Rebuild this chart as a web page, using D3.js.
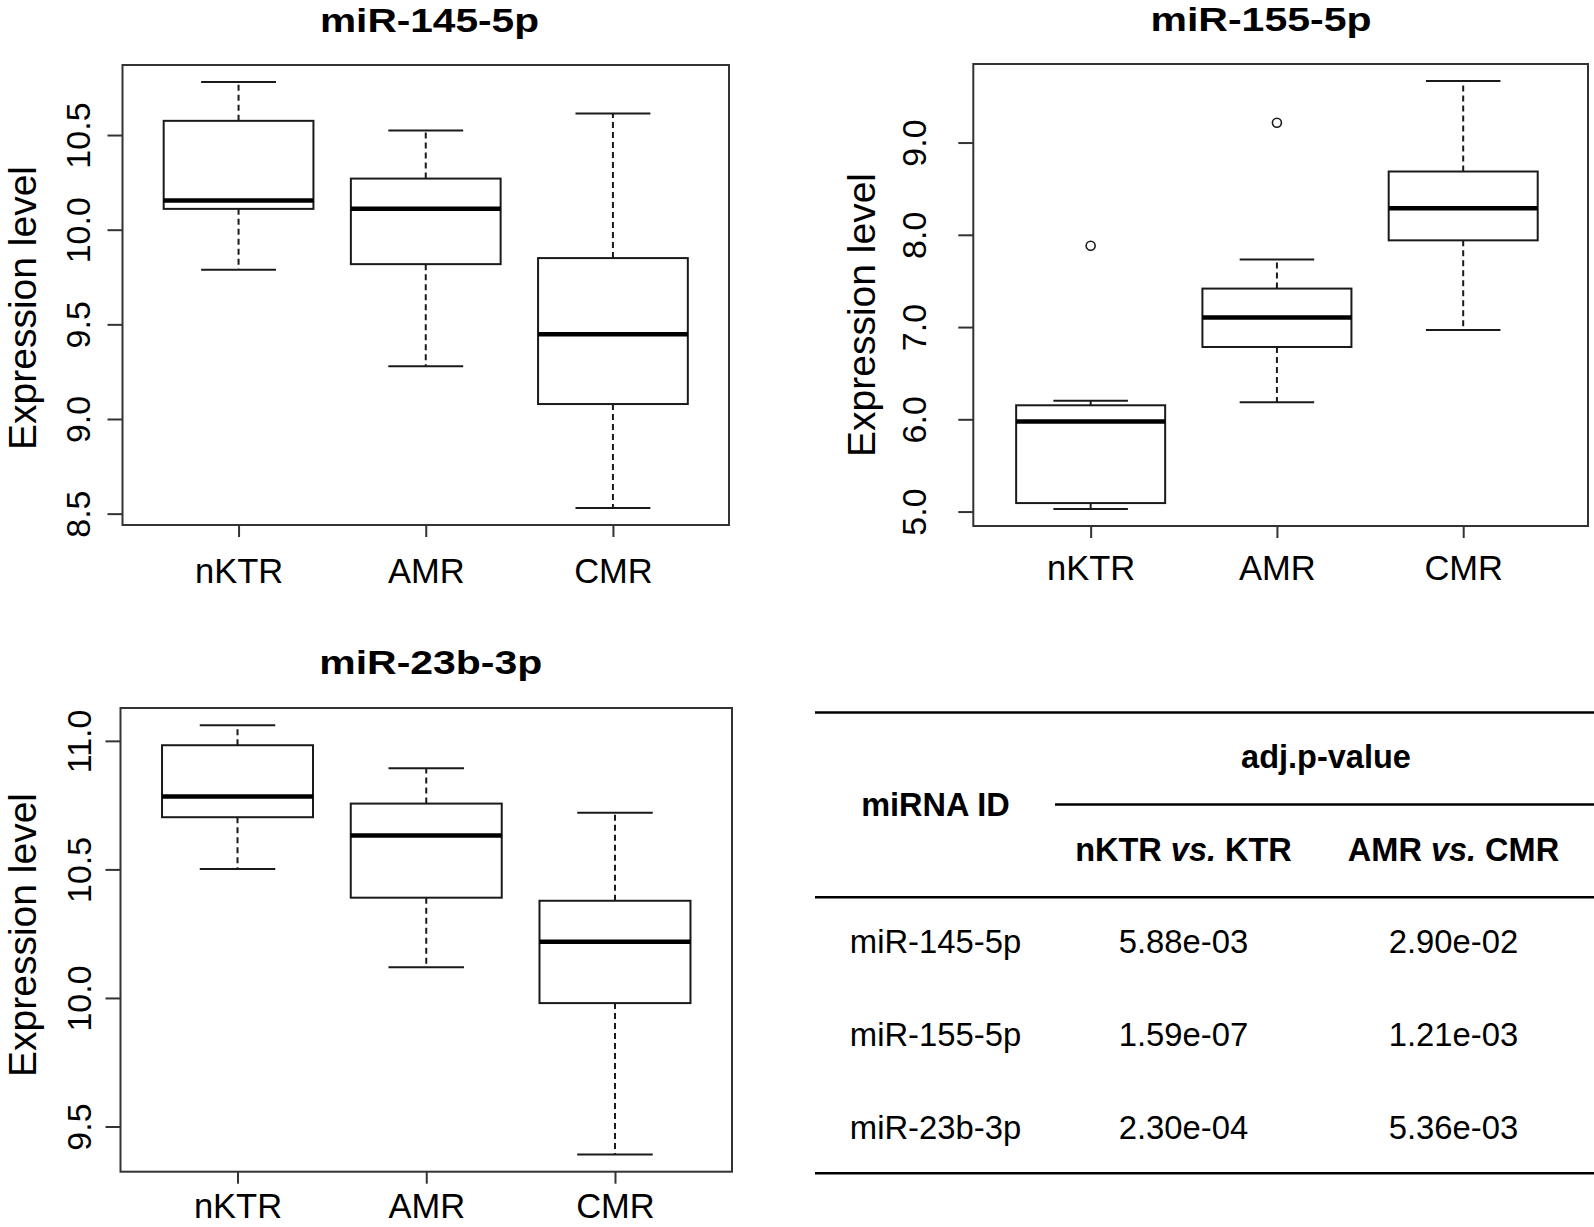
<!DOCTYPE html>
<html>
<head>
<meta charset="utf-8">
<script src="https://cdn.jsdelivr.net/npm/d3@7"></script>
<style>
  html, body { margin: 0; padding: 0; background: #fff; }
  svg { display: block; font-family: "Liberation Sans", Arial, Helvetica, sans-serif; }
</style>
</head>
<body>
<svg id="chart" width="1594" height="1227"></svg>
<script>
// ---------------- data ----------------
const groups = ["nKTR", "AMR", "CMR"];
const panelTitles = ["miR-145-5p", "miR-155-5p", "miR-23b-3p"];
const yAxisLabel = "Expression level";

// box stats per group: [lower whisker, Q1, median, Q3, upper whisker]
const mir145Stats = [
  [9.789, 10.110, 10.154, 10.575, 10.780],
  [9.278, 9.818, 10.110, 10.270, 10.524],
  [8.530, 9.079, 9.448, 9.850, 10.614]
];
const mir145Outliers = [[], [], []];
const mir145Ticks = [8.5, 9.0, 9.5, 10.0, 10.5];

const mir155Stats = [
  [5.029, 5.092, 5.976, 6.152, 6.202],
  [6.185, 6.784, 7.103, 7.417, 7.731],
  [6.969, 7.940, 8.288, 8.686, 9.666]
];
const mir155Outliers = [[7.882], [9.214], []];
const mir155Ticks = [5.0, 6.0, 7.0, 8.0, 9.0];

const mir23bStats = [
  [10.502, 10.703, 10.784, 10.983, 11.061],
  [10.119, 10.390, 10.632, 10.756, 10.893],
  [9.391, 9.980, 10.219, 10.378, 10.720]
];
const mir23bOutliers = [[], [], []];
const mir23bTicks = [9.5, 10.0, 10.5, 11.0];

// table
const tableSpanHeader = "adj.p-value";
const tableIdHeader = "miRNA ID";
const tableColHeaders = [["nKTR ", "vs.", " KTR"], ["AMR ", "vs.", " CMR"]];
const tableRowIds = ["miR-145-5p", "miR-155-5p", "miR-23b-3p"];
const tableCol1 = ["5.88e-03", "1.59e-07", "2.30e-04"];
const tableCol2 = ["2.90e-02", "1.21e-03", "5.36e-03"];

// ---------------- layout ----------------
const svg = d3.select("#chart");
svg.append("rect").attr("width", 1594).attr("height", 1227).attr("fill", "#fff");

const panels = [
  { stats: mir145Stats, outliers: mir145Outliers, ticks: mir145Ticks, title: panelTitles[0],
    left: 122.5, right: 729, top: 65, bottom: 525, xDom: [0.38, 3.62],
    titleX: 429.5, titleY: 31.7, titleW: 219,
    tickLabelX: 90, axisTitleX: 36, axisTitleY: 308, xLabelY: 583.3 },
  { stats: mir155Stats, outliers: mir155Outliers, ticks: mir155Ticks, title: panelTitles[1],
    left: 973.3, right: 1588, top: 64, bottom: 526, xDom: [0.37, 3.67],
    titleX: 1261, titleY: 30.5, titleW: 221,
    tickLabelX: 926, axisTitleX: 875, axisTitleY: 315, xLabelY: 580 },
  { stats: mir23bStats, outliers: mir23bOutliers, ticks: mir23bTicks, title: panelTitles[2],
    left: 120.5, right: 732, top: 708, bottom: 1171.7, xDom: [0.38, 3.62],
    titleX: 430.8, titleY: 674, titleW: 223,
    tickLabelX: 91, axisTitleX: 36, axisTitleY: 935, xLabelY: 1218 }
];

const ink = "#1a1a1a";

function drawPanel(p) {
  const g = svg.append("g");
  // R style y range: data range expanded by 4%
  const allVals = p.stats.flat().concat(p.outliers.flat());
  const lo = d3.min(allVals), hi = d3.max(allVals), pad = (hi - lo) * 0.04;
  const y = d3.scaleLinear().domain([lo - pad, hi + pad]).range([p.bottom, p.top]);
  const x = d3.scaleLinear().domain(p.xDom).range([p.left, p.right]);

  // frame
  g.append("rect")
    .attr("x", p.left).attr("y", p.top)
    .attr("width", p.right - p.left).attr("height", p.bottom - p.top)
    .attr("fill", "none").attr("stroke", "#333").attr("stroke-width", 2);

  // y axis
  const ya = g.append("g").attr("transform", `translate(${p.left},0)`)
    .call(d3.axisLeft(y).tickValues(p.ticks).tickSize(15).tickFormat(d3.format(".1f")));
  ya.select(".domain").remove();
  ya.selectAll(".tick line").attr("stroke", "#333").attr("stroke-width", 2);
  ya.selectAll(".tick text")
    .attr("x", 0).attr("dy", null)
    .attr("y", -(p.left - p.tickLabelX))
    .attr("transform", "rotate(-90)")
    .attr("text-anchor", "middle")
    .attr("fill", "#000")
    .style("font-size", "34px")
    .style("font-family", "'Liberation Sans', Arial, sans-serif");

  // x axis
  const xa = g.append("g").attr("transform", `translate(0,${p.bottom})`)
    .call(d3.axisBottom(x).tickValues([1, 2, 3]).tickSize(12).tickFormat(i => groups[i - 1]));
  xa.select(".domain").remove();
  xa.selectAll(".tick line").attr("stroke", "#333").attr("stroke-width", 2);
  xa.selectAll(".tick text")
    .attr("y", p.xLabelY - p.bottom).attr("dy", null)
    .attr("fill", "#000")
    .style("font-size", "34.5px")
    .style("font-family", "'Liberation Sans', Arial, sans-serif");

  // boxes
  const boxHalf = 0.4, stapleHalf = 0.2;
  p.stats.forEach((s, i) => {
    const c = i + 1;
    const [wl, q1, med, q3, wh] = s;
    const bg = g.append("g");
    // whiskers (dashed)
    bg.append("line").attr("x1", x(c)).attr("x2", x(c)).attr("y1", y(q3)).attr("y2", y(wh))
      .attr("stroke", ink).attr("stroke-width", 2).attr("stroke-dasharray", "6,4");
    bg.append("line").attr("x1", x(c)).attr("x2", x(c)).attr("y1", y(q1)).attr("y2", y(wl))
      .attr("stroke", ink).attr("stroke-width", 2).attr("stroke-dasharray", "6,4");
    // staples
    [wl, wh].forEach(v => {
      bg.append("line").attr("x1", x(c - stapleHalf)).attr("x2", x(c + stapleHalf))
        .attr("y1", y(v)).attr("y2", y(v)).attr("stroke", ink).attr("stroke-width", 2);
    });
    // box
    bg.append("rect").attr("x", x(c - boxHalf)).attr("y", y(q3))
      .attr("width", x(c + boxHalf) - x(c - boxHalf)).attr("height", y(q1) - y(q3))
      .attr("fill", "#fff").attr("stroke", ink).attr("stroke-width", 2);
    // median
    bg.append("line").attr("x1", x(c - boxHalf)).attr("x2", x(c + boxHalf))
      .attr("y1", y(med)).attr("y2", y(med)).attr("stroke", "#000").attr("stroke-width", 4.5);
    // outliers
    p.outliers[i].forEach(v => {
      bg.append("circle").attr("cx", x(c)).attr("cy", y(v)).attr("r", 4.5)
        .attr("fill", "none").attr("stroke", ink).attr("stroke-width", 1.6);
    });
  });

  // title
  g.append("text").attr("x", p.titleX).attr("y", p.titleY)
    .attr("text-anchor", "middle").attr("font-weight", "bold")
    .attr("font-size", 34).attr("textLength", p.titleW).attr("lengthAdjust", "spacingAndGlyphs")
    .text(p.title);

  // y axis title
  g.append("text")
    .attr("transform", `translate(${p.axisTitleX},${p.axisTitleY}) rotate(-90)`)
    .attr("text-anchor", "middle").attr("font-size", 39)
    .text(yAxisLabel);
}

panels.forEach(drawPanel);

// ---------------- table ----------------
const t = svg.append("g");
const tLeft = 815, tRight = 1594;
const hLines = [
  { x1: tLeft, y: 712.5 },
  { x1: 1055, y: 804.5 },
  { x1: tLeft, y: 897.3 },
  { x1: tLeft, y: 1173.3 }
];
t.selectAll("line.h").data(hLines).enter().append("line")
  .attr("x1", d => d.x1).attr("x2", tRight).attr("y1", d => d.y).attr("y2", d => d.y)
  .attr("stroke", "#000").attr("stroke-width", 2.6);

const colX = [935.5, 1183.5, 1453.5];
const rowY = d3.scaleLinear().domain([0, 1]).range([953.3, 1046]);

t.append("text").attr("x", colX[0]).attr("y", 816).attr("text-anchor", "middle")
  .attr("font-weight", "bold").attr("font-size", 32.5).text(tableIdHeader);
t.append("text").attr("x", 1326).attr("y", 768.3).attr("text-anchor", "middle")
  .attr("font-weight", "bold").attr("font-size", 32.5).text(tableSpanHeader);

tableColHeaders.forEach((parts, j) => {
  const tx = t.append("text").attr("x", colX[j + 1]).attr("y", 861.3).attr("text-anchor", "middle")
    .attr("font-weight", "bold").attr("font-size", 32.5);
  parts.forEach((s, k) => {
    tx.append("tspan").attr("font-style", k === 1 ? "italic" : "normal").text(s);
  });
});

tableRowIds.forEach((id, i) => {
  t.append("text").attr("x", colX[0]).attr("y", rowY(i)).attr("text-anchor", "middle")
    .attr("font-size", 32.8).text(id);
  t.append("text").attr("x", colX[1]).attr("y", rowY(i)).attr("text-anchor", "middle")
    .attr("font-size", 32.8).text(tableCol1[i]);
  t.append("text").attr("x", colX[2]).attr("y", rowY(i)).attr("text-anchor", "middle")
    .attr("font-size", 32.8).text(tableCol2[i]);
});
</script>
</body>
</html>
